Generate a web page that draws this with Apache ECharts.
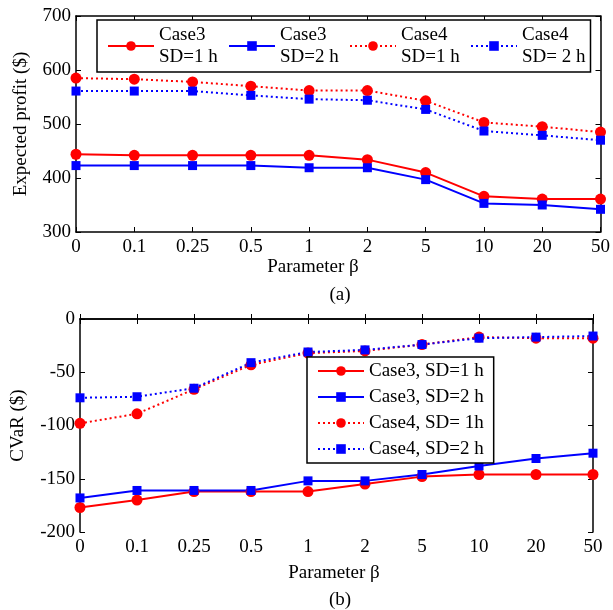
<!DOCTYPE html>
<html>
<head>
<meta charset="utf-8">
<script src="https://cdn.jsdelivr.net/npm/echarts@6/dist/echarts.min.js"></script>
<style>
  html, body { margin: 0; padding: 0; background: #fff; }
  #chart { width: 613px; height: 610px; }
</style>
</head>
<body>
<div id="chart"></div>
<script>
// categories of beta (shared by both panels)
const betas = ['0', '0.1', '0.25', '0.5', '1', '2', '5', '10', '20', '50'];

// (a) expected profit ($)
const profitCase3Sd1 = [444, 442, 442, 442, 442, 434, 410, 366, 361, 361];
const profitCase3Sd2 = [423, 423, 423, 423, 419, 419, 397, 353, 350, 342];
const profitCase4Sd1 = [585, 583, 578, 570, 562, 562, 543, 503, 495, 485];
const profitCase4Sd2 = [561, 561, 561, 553, 546, 544, 527, 487, 479, 470];

// (b) CVaR ($)
const cvarCase3Sd1 = [-177, -170, -162, -162, -162, -155, -148, -146, -146, -146];
const cvarCase3Sd2 = [-168, -161, -161, -161, -152, -152, -146, -138, -131, -126];
const cvarCase4Sd1 = [-98, -89, -66, -43, -32, -30, -24, -17, -18, -18];
const cvarCase4Sd2 = [-74, -73, -65, -41, -31, -29, -24, -18, -17, -16];

const namesA = ['Case3\nSD=1 h', 'Case3\nSD=2 h', 'Case4\nSD=1 h', 'Case4\nSD= 2 h'];
const namesB = ['Case3, SD=1 h', 'Case3, SD=2 h', 'Case4, SD= 1h', 'Case4, SD=2 h'];

const FONT = "'Liberation Serif', 'Times New Roman', serif";
const RED = '#ff0000';
const BLUE = '#0000ff';

const chart = echarts.init(document.getElementById('chart'));

function xAxes(grid) {
  const base = {
    gridIndex: grid,
    type: 'category',
    data: betas,
    boundaryGap: false,
    axisLine: { lineStyle: { color: '#000', width: 1.5 } },
    axisTick: { inside: true, length: 5, lineStyle: { color: '#000' } },
    splitLine: { show: false }
  };
  return [
    Object.assign({}, base, {
      position: 'bottom',
      axisLabel: { color: '#000', fontFamily: FONT, fontSize: 19, margin: 6 }
    }),
    Object.assign({}, base, { position: 'top', axisLabel: { show: false } })
  ];
}

function yAxes(grid, min, max, step, name, gap) {
  const base = {
    gridIndex: grid,
    type: 'value',
    min: min,
    max: max,
    interval: step,
    axisLine: { show: true, lineStyle: { color: '#000', width: 1.5 } },
    axisTick: { show: true, inside: true, length: 5, lineStyle: { color: '#000' } },
    splitLine: { show: false }
  };
  return [
    Object.assign({}, base, {
      position: 'left',
      name: name,
      nameLocation: 'middle',
      nameGap: gap,
      nameTextStyle: { color: '#000', fontFamily: FONT, fontSize: 19 },
      axisLabel: { color: '#000', fontFamily: FONT, fontSize: 19, margin: 5 }
    }),
    Object.assign({}, base, { position: 'right', axisLabel: { show: false } })
  ];
}

function line(name, data, color, symbol, dotted, xi, yi) {
  return {
    name: name,
    type: 'line',
    xAxisIndex: xi,
    yAxisIndex: yi,
    data: data,
    symbol: symbol,
    symbolSize: symbol === 'circle' ? 11 : 9,
    itemStyle: { color: color },
    lineStyle: { color: color, width: 2, type: dotted ? [2, 3] : 'solid' },
    animation: false
  };
}

const legendText = { color: '#000', fontFamily: FONT, fontSize: 19 };
const nameStyle = { fontFamily: FONT, fontSize: 19, fontWeight: 'normal', color: '#000' };

chart.setOption({
  backgroundColor: '#fff',
  animation: false,
  title: [
    { text: 'Parameter β', left: 313, top: 258, textAlign: 'center', textStyle: nameStyle, padding: 0 },
    { text: '(a)', left: 340, top: 286, textAlign: 'center', textStyle: nameStyle, padding: 0 },
    { text: 'Parameter β', left: 334, top: 564, textAlign: 'center', textStyle: nameStyle, padding: 0 },
    { text: '(b)', left: 340, top: 591, textAlign: 'center', textStyle: nameStyle, padding: 0 }
  ],
  grid: [
    { left: 76, top: 16, width: 527, height: 216 },
    { left: 80, top: 319, width: 513, height: 213 }
  ],
  legend: [
    {
      data: namesA,
      left: 97,
      top: 20,
      orient: 'horizontal',
      padding: [4, 5, 4, 10],
      itemWidth: 46,
      itemHeight: 12,
      itemGap: 9,
      backgroundColor: '#fff',
      borderColor: '#000',
      borderWidth: 1.5,
      borderRadius: 0,
      textStyle: Object.assign({ width: 60, lineHeight: 22 }, legendText)
    },
    {
      data: namesB,
      left: 307,
      top: 357,
      orient: 'vertical',
      padding: [4, 10, 4, 10],
      itemWidth: 46,
      itemHeight: 12,
      itemGap: 6,
      backgroundColor: '#fff',
      borderColor: '#000',
      borderWidth: 1.5,
      borderRadius: 0,
      textStyle: Object.assign({ lineHeight: 20 }, legendText)
    }
  ],
  xAxis: xAxes(0).concat(xAxes(1)),
  yAxis: yAxes(0, 300, 700, 100, 'Expected profit ($)', 45)
    .concat(yAxes(1, -200, 0, 50, 'CVaR ($)', 52)),
  series: [
    line(namesA[0], profitCase3Sd1, RED, 'circle', false, 0, 0),
    line(namesA[1], profitCase3Sd2, BLUE, 'rect', false, 0, 0),
    line(namesA[2], profitCase4Sd1, RED, 'circle', true, 0, 0),
    line(namesA[3], profitCase4Sd2, BLUE, 'rect', true, 0, 0),
    line(namesB[0], cvarCase3Sd1, RED, 'circle', false, 2, 2),
    line(namesB[1], cvarCase3Sd2, BLUE, 'rect', false, 2, 2),
    line(namesB[2], cvarCase4Sd1, RED, 'circle', true, 2, 2),
    line(namesB[3], cvarCase4Sd2, BLUE, 'rect', true, 2, 2)
  ]
});
</script>
</body>
</html>
